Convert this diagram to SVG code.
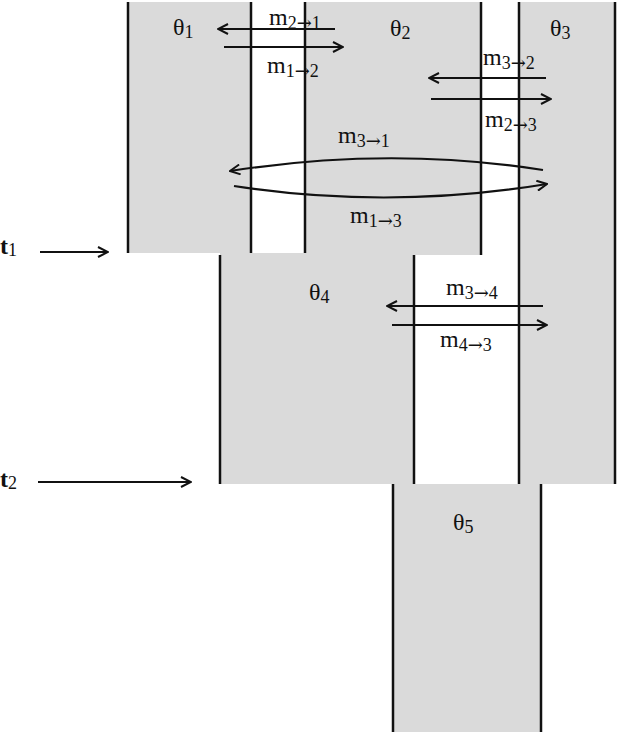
<svg xmlns="http://www.w3.org/2000/svg" width="618" height="732" viewBox="0 0 618 732">
<style>
.shade{fill:#dadada;stroke:none}
.edge{stroke:#111;stroke-width:2.5;fill:none}
.msg{stroke:#111;stroke-width:2.2;fill:none;marker-end:url(#ah)}
.lbl{font-family:"Liberation Serif","Times New Roman",serif;font-size:24px;fill:#111}
.sub{font-size:18px}
.arr{font-family:"DejaVu Serif",serif;font-size:18px}
</style>
<defs>
<marker id="ah" viewBox="0 0 12 12" refX="11" refY="6" markerWidth="12" markerHeight="12" markerUnits="userSpaceOnUse" orient="auto">
<path d="M1,1 L11,6 L1,11" fill="none" stroke="#111" stroke-width="2"/>
</marker>
</defs>
<rect width="618" height="732" fill="#fff"/>
<g id="theta1">
<rect class="shade" x="128" y="2" width="123" height="251"/>
<line class="edge" x1="128" y1="2" x2="128" y2="253"/>
<line class="edge" x1="251" y1="2" x2="251" y2="253"/>
<text class="lbl" x="173" y="35">θ<tspan class="sub" dy="3">1</tspan></text>
</g>
<g id="theta2">
<rect class="shade" x="305" y="2" width="176" height="253"/>
<line class="edge" x1="305" y1="2" x2="305" y2="253"/>
<line class="edge" x1="481" y1="2" x2="481" y2="255"/>
<text class="lbl" x="390" y="36">θ<tspan class="sub" dy="3">2</tspan></text>
</g>
<g id="theta3">
<rect class="shade" x="519" y="2" width="96" height="482"/>
<line class="edge" x1="519" y1="2" x2="519" y2="484"/>
<line class="edge" x1="615" y1="2" x2="615" y2="484"/>
<text class="lbl" x="550" y="36">θ<tspan class="sub" dy="3">3</tspan></text>
</g>
<g id="theta4">
<rect class="shade" x="220" y="253" width="194" height="231"/>
<line class="edge" x1="220" y1="255" x2="220" y2="484"/>
<line class="edge" x1="414" y1="255" x2="414" y2="484"/>
<text class="lbl" x="309" y="300">θ<tspan class="sub" dy="3">4</tspan></text>
</g>
<g id="theta5">
<rect class="shade" x="393" y="484" width="148" height="248"/>
<line class="edge" x1="393" y1="484" x2="393" y2="732"/>
<line class="edge" x1="541" y1="484" x2="541" y2="732"/>
<text class="lbl" x="453" y="530">θ<tspan class="sub" dy="3">5</tspan></text>
</g>
<g id="time-marks">
<text class="lbl" x="0" y="254" font-weight="bold">t<tspan class="sub" dy="2" font-weight="normal">1</tspan></text>
<line class="msg" x1="40" y1="252" x2="108" y2="252"/>
<text class="lbl" x="0" y="487" font-weight="bold">t<tspan class="sub" dy="2" font-weight="normal">2</tspan></text>
<line class="msg" x1="38" y1="482" x2="191" y2="482"/>
</g>
<g id="connectors">
<line class="msg" x1="335" y1="29" x2="218" y2="29"/>
<line class="msg" x1="224" y1="47" x2="343" y2="47"/>
<line class="msg" x1="546" y1="78" x2="429" y2="78"/>
<line class="msg" x1="431" y1="99" x2="551" y2="99"/>
<path class="msg" d="M543,170 Q390,146 230,171"/>
<path class="msg" d="M234,186 Q390,210 547,184"/>
<line class="msg" x1="543" y1="306" x2="387" y2="306"/>
<line class="msg" x1="392" y1="325" x2="547" y2="325"/>
<text class="lbl" x="269" y="25">m<tspan class="sub" dy="4">2</tspan><tspan class="arr">→</tspan><tspan class="sub">1</tspan></text>
<text class="lbl" x="267" y="73">m<tspan class="sub" dy="4">1</tspan><tspan class="arr">→</tspan><tspan class="sub">2</tspan></text>
<text class="lbl" x="483" y="65">m<tspan class="sub" dy="4">3</tspan><tspan class="arr">→</tspan><tspan class="sub">2</tspan></text>
<text class="lbl" x="485" y="127">m<tspan class="sub" dy="4">2</tspan><tspan class="arr">→</tspan><tspan class="sub">3</tspan></text>
<text class="lbl" x="338" y="143">m<tspan class="sub" dy="4">3</tspan><tspan class="arr">→</tspan><tspan class="sub">1</tspan></text>
<text class="lbl" x="350" y="223">m<tspan class="sub" dy="4">1</tspan><tspan class="arr">→</tspan><tspan class="sub">3</tspan></text>
<text class="lbl" x="446" y="295">m<tspan class="sub" dy="4">3</tspan><tspan class="arr">→</tspan><tspan class="sub">4</tspan></text>
<text class="lbl" x="440" y="347">m<tspan class="sub" dy="4">4</tspan><tspan class="arr">→</tspan><tspan class="sub">3</tspan></text>
</g>
</svg>
